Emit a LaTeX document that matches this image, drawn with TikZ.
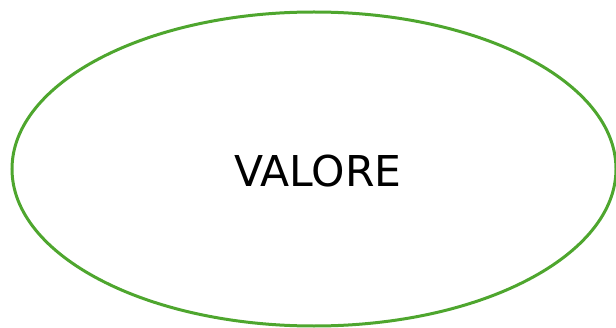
\documentclass[tikz,border=0pt]{standalone}
\usepackage{fontspec}
\setmainfont{DejaVu Sans}
\definecolor{ellgreen}{RGB}{78,166,46}
\tikzset{ellline/.style={draw=ellgreen,line width=3pt}}
\begin{document}
\begin{tikzpicture}[x=1pt,y=1pt]
\useasboundingbox (0,0) rectangle (616,327);
\begin{scope}
\clip (0,0) rectangle (616,327);
\draw[ellline] (314,158) ellipse [x radius=302, y radius=157];
\end{scope}
\node[inner sep=0pt] (val) at (318,156) {\fontsize{42.5}{50}\selectfont VALORE};
\end{tikzpicture}
\end{document}
